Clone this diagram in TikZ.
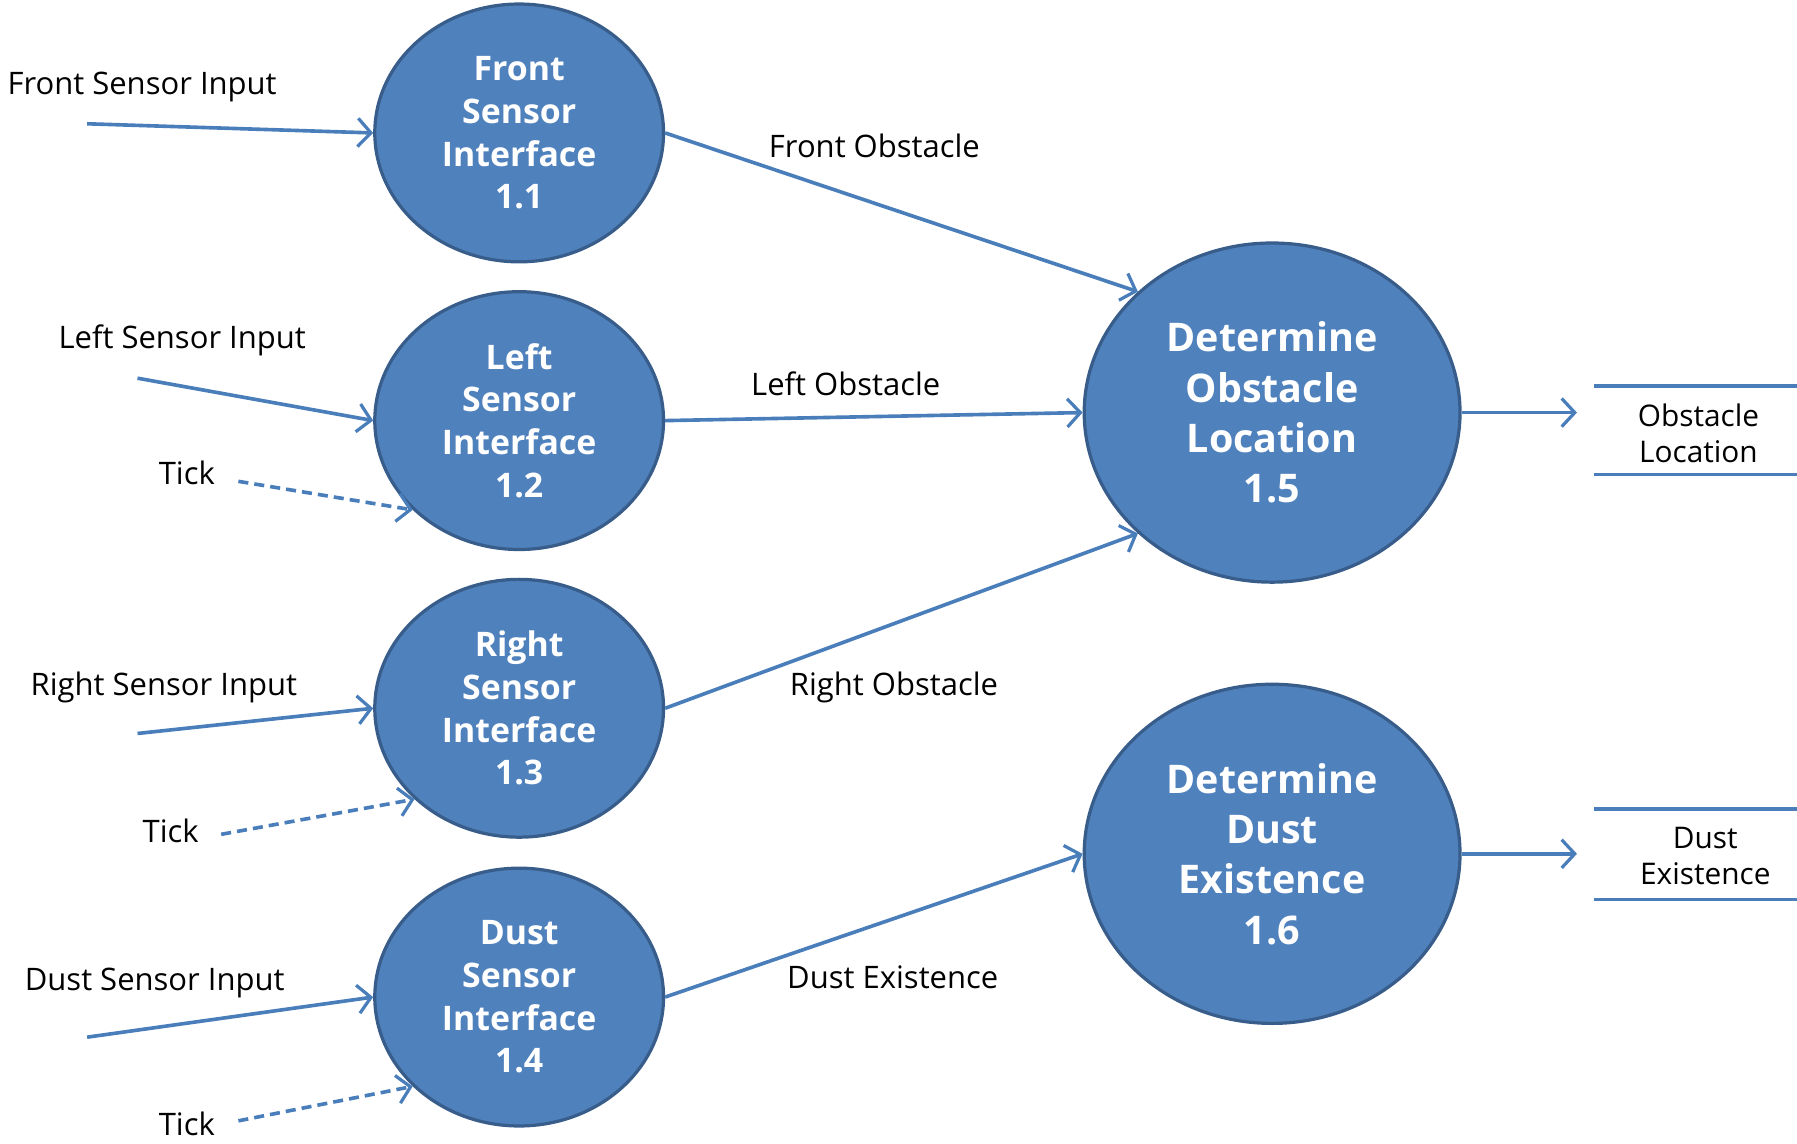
\documentclass[tikz,border=0pt]{standalone}
\usepackage{fontspec}
\setmainfont{Open Sans}
\usetikzlibrary{shapes.geometric,arrows.meta}
\definecolor{procfill}{HTML}{4F81BD}
\definecolor{procdraw}{HTML}{385D8A}
\definecolor{flow}{HTML}{4A7EBB}
\tikzset{
  proc/.style={ellipse,fill=procfill,draw=procdraw,line width=1.6pt,text=white,align=center,font=\bfseries\fontsize{16.8}{21.2}\selectfont,inner sep=0pt},
  smallproc/.style={proc,minimum width=5.04cm,minimum height=4.5cm},
  bigproc/.style={proc,minimum width=6.56cm,minimum height=5.92cm,font=\bfseries\fontsize{19.6}{25}\selectfont},
  lbl/.style={text=black,font=\fontsize{15.4}{18}\selectfont,inner sep=0pt},
  storelbl/.style={text=black,font=\fontsize{14.8}{18}\selectfont,align=center,inner sep=0pt},
  flowline/.style={draw=flow,line width=1.8pt,-{Straight Barb[length=6.5pt,width=14pt,line width=1.6pt]}},
  tickline/.style={flowline,dash pattern=on 5pt off 3pt},
  storeline/.style={draw=flow,line width=1.8pt}
}
\begin{document}
\begin{tikzpicture}[x=0.02cm,y=-0.02cm]
\useasboundingbox (0,0) rectangle (1568,998.2);
% processes
\node[smallproc] (p1) at (453,116) {Front\\Sensor\\Interface\\1.1};
\node[smallproc] (p2) at (453,367) {Left\\Sensor\\Interface\\1.2};
\node[smallproc] (p3) at (453,618) {Right\\Sensor\\Interface\\1.3};
\node[smallproc] (p4) at (453,870) {Dust\\Sensor\\Interface\\1.4};
\node[bigproc] (p5) at (1110,360) {Determine\\Obstacle\\Location\\1.5};
\node[bigproc] (p6) at (1110,745) {Determine\\Dust\\Existence\\1.6};
% input labels
\node[lbl] (l1) at (124,76) {Front Sensor Input};
\node[lbl] (l2) at (159,297) {Left Sensor Input};
\node[lbl] (t1) at (163,413) {Tick};
\node[lbl] (l3) at (143,600) {Right Sensor Input};
\node[lbl] (t2) at (149,725) {Tick};
\node[lbl] (l4) at (135,858) {Dust Sensor Input};
\node[lbl] (t3) at (163,981) {Tick};
% flow labels
\node[lbl] (f1) at (763,127) {Front Obstacle};
\node[lbl] (f2) at (738,335) {Left Obstacle};
\node[lbl] (f3) at (780,600) {Right Obstacle};
\node[lbl] (f4) at (779,853) {Dust Existence};
% free ends
\coordinate (a1) at (76,108);
\coordinate (a2) at (120,330);
\coordinate (b1) at (208,420);
\coordinate (a3) at (120,640);
\coordinate (b2) at (193,728);
\coordinate (a4) at (76,905);
\coordinate (b3) at (208,978);
\coordinate (o1) at (1376,360);
\coordinate (o2) at (1376,745);
% inputs
\draw[flowline] (a1) -- (p1.west);
\draw[flowline] (a2) -- (p2.west);
\draw[tickline] (b1) -- (p2.220);
\draw[flowline] (a3) -- (p3.west);
\draw[tickline] (b2) -- (p3.221);
\draw[flowline] (a4) -- (p4.west);
\draw[tickline] (b3) -- (p4.220);
% internal flows
\draw[flowline] (p1.east) -- (p5.138);
\draw[flowline] (p2.east) -- (p5.west);
\draw[flowline] (p3.east) -- (p5.222);
\draw[flowline] (p4.east) -- (p6.west);
% outputs
\draw[flowline] (p5.east) -- (o1);
\draw[flowline] (p6.east) -- (o2);
% data stores
\node[storelbl] (s1) at (1482,378) {Obstacle\\Location};
\node[storelbl] (s2) at (1488,747) {Dust\\Existence};
\draw[storeline] (1391,337) -- (1568,337);
\draw[storeline] (1391,414) -- (1568,414);
\draw[storeline] (1391,706) -- (1568,706);
\draw[storeline] (1391,785) -- (1568,785);
\end{tikzpicture}
\end{document}
